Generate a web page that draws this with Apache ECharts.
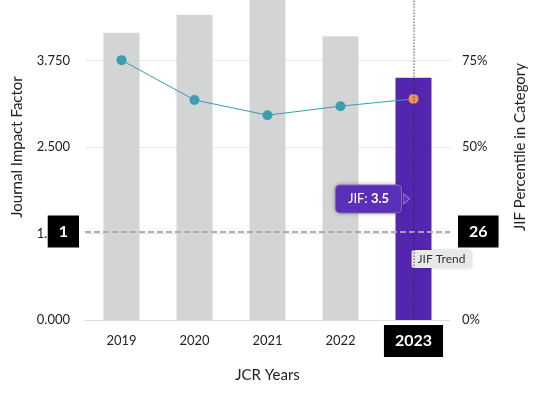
<!DOCTYPE html>
<html>
<head>
<meta charset="utf-8">
<script src="https://cdn.jsdelivr.net/npm/echarts@6/dist/echarts.min.js"></script>
<style>
  html, body { margin: 0; padding: 0; background: #fff; }
  #chart { width: 536px; height: 396px; }
</style>
</head>
<body>
<div id="chart"></div>
<script>
const years = ['2019', '2020', '2021', '2022', '2023'];
const jifValues = [4.15, 4.41, 4.75, 4.10, 3.5];
const percentileValues = [75.1, 63.6, 59.2, 61.8, 63.9];
const jifTicks = [0, 1.25, 2.5, 3.75];
const percentTicks = [0, 25, 50, 75];

const fontFamily = 'Lato, "Noto Sans", sans-serif';
const gray = '#d3d4d4';
const purple = '#5426b0';
const tipPurple = '#5a30b8';
const teal = '#3a9db1';
const orange = '#f4915a';
const selected = years.length - 1;

const chart = echarts.init(document.getElementById('chart'));

const barData = jifValues.map((v, i) => {
  if (i !== selected) return v;
  return {
    value: v,
    itemStyle: { color: purple },
    label: {
      show: true,
      position: 'inside',
      offset: [-45, 0],
      backgroundColor: tipPurple,
      borderColor: '#8f78d2',
      borderWidth: 1,
      borderRadius: 4,
      padding: [7, 12],
      shadowColor: 'rgba(0,0,0,0.25)',
      shadowBlur: 4,
      formatter: p => `{a|JIF: }{b|${p.value}}`,
      rich: {
        a: { color: '#fff', fontSize: 13, fontFamily: fontFamily },
        b: { color: '#fff', fontSize: 13, fontWeight: 'bold', fontFamily: fontFamily }
      }
    }
  };
});

const lineData = percentileValues.map((v, i) => {
  if (i !== selected) return v;
  return { value: v, itemStyle: { color: orange } };
});

const pointerLabel = {
  show: true,
  backgroundColor: '#000',
  color: '#fff',
  fontSize: 16,
  fontWeight: 'bold',
  fontFamily: fontFamily,
  padding: [8, 11],
  borderRadius: 0,
  margin: 6
};

chart.setOption({
  animation: false,
  textStyle: { fontFamily: fontFamily },
  grid: { left: 85, right: 86, top: -26, bottom: 76, outerBoundsMode: 'none', containLabel: false },
  axisPointer: { triggerOn: 'none' },
  xAxis: {
    type: 'category',
    data: years,
    name: 'JCR Years',
    nameLocation: 'middle',
    nameGap: 48,
    nameTextStyle: { fontSize: 15, color: '#222' },
    axisLine: { lineStyle: { color: '#dddddd' } },
    axisTick: { show: false },
    axisLabel: { margin: 14, fontSize: 13, color: '#222' },
    axisPointer: {
      show: true,
      type: 'line',
      value: years[selected],
      status: 'show',
      lineStyle: { color: '#222', opacity: 0.55, type: 'dotted', width: 1.5 },
      label: Object.assign({}, pointerLabel, { margin: 5 })
    }
  },
  yAxis: [
    {
      type: 'value',
      min: 0,
      max: 5,
      interval: 1.25,
      name: 'Journal Impact Factor',
      nameLocation: 'middle',
      nameGap: 60,
      nameTextStyle: { fontSize: 15, color: '#222' },
      axisLine: { show: false },
      axisTick: { show: false },
      axisLabel: {
        margin: 15,
        fontSize: 13,
        color: '#222',
        formatter: v => jifTicks.includes(v) ? v.toFixed(3) : ''
      },
      splitLine: { lineStyle: { color: '#e6e6e6' } },
      axisPointer: {
        show: true,
        type: 'line',
        value: 1.28,
        status: 'show',
        lineStyle: { color: '#aaaaaa', type: 'dashed', width: 1.5 },
        label: Object.assign({}, pointerLabel, {
          formatter: p => String(Math.round(p.value))
        })
      }
    },
    {
      type: 'value',
      min: 0,
      max: 100,
      interval: 25,
      name: 'JIF Percentile in Category',
      nameLocation: 'middle',
      nameGap: 63,
      nameTextStyle: { fontSize: 15, color: '#222' },
      axisLine: { show: false },
      axisTick: { show: false },
      axisLabel: {
        margin: 12,
        fontSize: 13,
        color: '#222',
        formatter: v => percentTicks.includes(v) ? v + '%' : ''
      },
      splitLine: { show: false },
      axisPointer: {
        show: true,
        type: 'line',
        value: 25.6,
        status: 'show',
        lineStyle: { color: '#aaaaaa', type: 'dashed', width: 1.5 },
        label: Object.assign({}, pointerLabel, {
          margin: 8,
          formatter: p => String(Math.round(p.value))
        })
      }
    }
  ],
  series: [
    {
      name: 'JIF',
      type: 'bar',
      data: barData,
      barWidth: 36,
      itemStyle: { color: gray },
      markPoint: {
        data: [
          {
            // little arrow of the JIF tooltip
            coord: [years[selected], jifValues[selected] / 2],
            symbol: 'triangle',
            symbolRotate: -90,
            symbolSize: [10, 6],
            symbolOffset: [-7, 0],
            itemStyle: { color: tipPurple, borderColor: '#8f78d2', borderWidth: 1 },
            label: { show: false }
          },
          {
            coord: [years[selected], 0.88],
            symbolSize: 0,
            label: {
              show: true,
              position: 'inside',
              offset: [28, 0],
              formatter: 'JIF Trend',
              backgroundColor: '#e8e8e8',
              color: '#333',
              fontSize: 12,
              fontFamily: fontFamily,
              padding: [3, 6],
              borderRadius: 2,
              shadowColor: 'rgba(0,0,0,0.2)',
              shadowBlur: 3
            }
          }
        ]
      }
    },
    {
      name: 'JIF Percentile',
      type: 'line',
      yAxisIndex: 1,
      data: lineData,
      symbol: 'circle',
      symbolSize: 10,
      itemStyle: { color: teal },
      lineStyle: { color: teal, width: 1 },
      z: 3
    }
  ]
});
</script>
</body>
</html>
